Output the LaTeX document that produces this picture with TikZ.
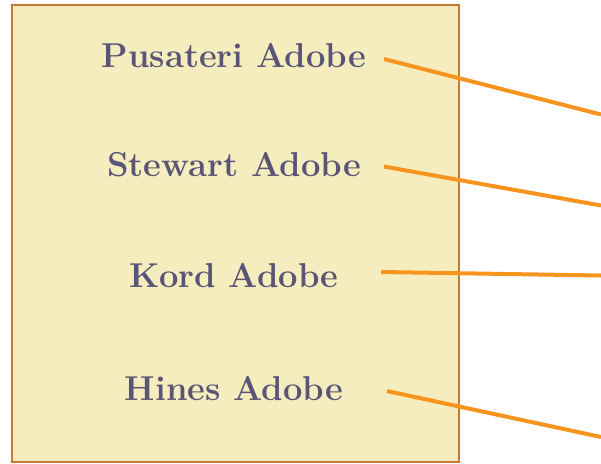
\documentclass[tikz,border=0pt]{standalone}
\definecolor{boxfill}{HTML}{F6EDBE}
\definecolor{boxline}{HTML}{C47A34}
\definecolor{txt}{HTML}{5A5577}
\definecolor{wire}{HTML}{F7941D}
\begin{document}
\begin{tikzpicture}[x=1pt,y=-1pt,
  lbl/.style={font=\fontsize{34.5}{40}\selectfont\bfseries, text=txt, anchor=base, inner sep=0pt},
  wireline/.style={draw=wire, line width=4pt}]
\useasboundingbox (0,0) rectangle (601,463);
\node[draw=boxline, fill=boxfill, line width=2pt, minimum width=447pt, minimum height=457pt, inner sep=0pt, anchor=north west] (box) at (11,4) {};
\node[lbl] (p) at (234,67) {Pusateri Adobe};
\node[lbl] (s) at (234,176.5) {Stewart Adobe};
\node[lbl] (k) at (234,287) {Kord Adobe};
\node[lbl] (h) at (234,400) {Hines Adobe};
\coordinate (ps) at (384,59);
\coordinate (pe) at (601,114.5);
\coordinate (ss) at (384,166.5);
\coordinate (se) at (601,205.5);
\coordinate (ks) at (381,272);
\coordinate (ke) at (601,275.5);
\coordinate (hs) at (387,391);
\coordinate (he) at (601,437);
\draw[wireline] (ps) -- (pe);
\draw[wireline] (ss) -- (se);
\draw[wireline] (ks) -- (ke);
\draw[wireline] (hs) -- (he);
\end{tikzpicture}
\end{document}
